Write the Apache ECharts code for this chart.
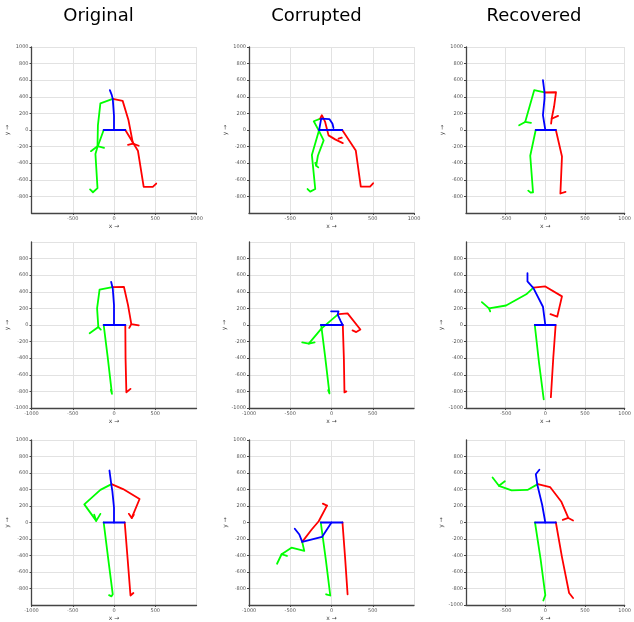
<!DOCTYPE html>
<html><head><meta charset="utf-8">
<script src="https://cdn.jsdelivr.net/npm/echarts@6/dist/echarts.min.js"></script>
<style>html,body{margin:0;padding:0;background:#fff}#c{width:634px;height:622px}</style>
</head><body><div id="c"></div>
<script>
// Column titles
const columnTitles = ['Original', 'Corrupted', 'Recovered'];
// Axis tick values
const xTickStep = 500, yTickStep = 200, axisMin = -1000, axisMax = 1000;

// Each skeleton: polylines per colour (blue = spine/hips, red = one side, green = other side)
// Row 1
const p1Blue = [[[-125,0],[137,0]], [[0,0],[0,170],[-15,375],[-30,430],[-50,480]]];
const p1Red = [[[-15,375],[105,351],[175,120],[230,-165]], [[170,-178],[230,-165],[300,-190]], [[137,0],[290,-250],[360,-685],[470,-685],[512,-645]]];
const p1Green = [[[-15,375],[-165,320],[-195,55],[-200,-195]], [[-280,-255],[-200,-195],[-120,-215]], [[-125,0],[-205,-220],[-225,-290],[-200,-700],[-255,-750],[-290,-715]]];

const p2Blue = [[[-150,0],[130,0]], [[24,24],[12,76],[-24,130],[-125,137],[-148,115],[-150,0]]];
const p2Red = [[[-137,137],[-117,178],[-77,97],[-36,-65],[44,-113],[137,-158]], [[85,-105],[125,-93]], [[130,0],[294,-246],[355,-683],[467,-683],[504,-642]]];
const p2Green = [[[-125,140],[-215,105],[-160,5],[-95,-125],[-165,-310],[-185,-430]], [[-197,-395],[-185,-430],[-160,-450]], [[-150,0],[-238,-300],[-197,-711],[-258,-743],[-290,-711]]];

const p3Blue = [[[-121,0],[133,0]], [[0,0],[-30,180],[-10,380],[-10,450],[-30,600]]];
const p3Red = [[[-10,452],[135,455],[110,280],[80,135]], [[73,77],[80,135],[161,170]], [[133,0],[210,-320],[190,-765],[215,-770],[255,-745]]];
const p3Green = [[[-10,452],[-140,480],[-254,97],[-330,57]], [[-254,97],[-181,85]], [[-121,0],[-190,-310],[-155,-750],[-185,-755],[-215,-730]]];

// Row 2
const p4Blue = [[[-125,0],[137,0]], [[0,0],[0,240],[-15,440],[-5,460],[-35,520]]];
const p4Red = [[[-20,457],[120,460],[170,240],[210,10],[300,-5]], [[210,10],[185,-35]], [[137,0],[140,-400],[150,-810],[165,-815],[200,-770]]];
const p4Green = [[[-20,457],[-175,425],[-205,200],[-190,-25]], [[-295,-100],[-190,-25],[-160,-55]], [[-125,0],[-75,-400],[-25,-830],[-38,-780]]];

const p5Blue = [[[-130,0],[135,0]], [[135,0],[110,50],[75,125],[85,165],[-5,165]]];
const p5Red = [[[90,130],[195,140],[350,-55],[300,-85],[255,-65]], [[137,0],[150,-400],[157,-812],[180,-800]]];
const p5Green = [[[75,125],[-120,-40],[-275,-225],[-355,-210]], [[-275,-225],[-205,-210]], [[-125,0],[-75,-400],[-25,-825],[-40,-785]]];

const p6Blue = [[[-133,0],[129,0]], [[0,0],[-30,220],[-150,445],[-225,525],[-225,625]]];
const p6Red = [[[-150,450],[0,465],[210,345],[150,100],[65,130]], [[130,0],[100,-400],[70,-870]]];
const p6Green = [[[-150,450],[-240,370],[-495,235],[-710,200],[-800,275]], [[-710,200],[-695,165]], [[-133,0],[-80,-450],[-20,-895]]];

// Row 3
const p7Blue = [[[-125,0],[129,0]], [[0,0],[0,180],[-20,380],[-32,455],[-55,630]]];
const p7Red = [[[-30,465],[110,405],[310,285],[215,55]], [[180,105],[215,55],[240,95]], [[130,0],[165,-440],[200,-885],[235,-855]]];
const p7Green = [[[-30,465],[-165,395],[-360,220],[-215,20]], [[-240,95],[-215,20],[-165,105]], [[-125,0],[-70,-440],[-15,-870],[-30,-895],[-60,-880]]];

const p8Blue = [[[-129,0],[133,0]], [[0,0],[-115,-175],[-355,-235],[-390,-145],[-445,-75]]];
const p8Red = [[[-355,-235],[-240,-85],[-155,15],[-55,205]], [[-55,205],[-70,228],[-105,228]], [[133,0],[165,-430],[195,-870]]];
const p8Green = [[[-355,-235],[-330,-345],[-485,-305],[-605,-385],[-660,-500]], [[-605,-385],[-540,-405]], [[-130,0],[-70,-440],[-15,-885],[-35,-900],[-65,-870]]];

const p9Blue = [[[-129,0],[133,0]], [[0,0],[-40,215],[-100,455],[-120,585],[-75,640]]];
const p9Red = [[[-95,465],[60,430],[200,255],[290,55]], [[220,32],[290,55],[350,25]], [[133,0],[210,-420],[300,-855],[350,-915]]];
const p9Green = [[[-95,465],[-225,395],[-425,390],[-585,445],[-665,545]], [[-585,445],[-510,500]], [[-130,0],[-60,-440],[0,-880],[-25,-945]]];

const panels = [
  {blue:p1Blue, red:p1Red, green:p1Green, xMin:false, xMax:true, yMin:false, yMax:true},
  {blue:p2Blue, red:p2Red, green:p2Green, xMin:false, xMax:true, yMin:false, yMax:true},
  {blue:p3Blue, red:p3Red, green:p3Green, xMin:false, xMax:true, yMin:false, yMax:true},
  {blue:p4Blue, red:p4Red, green:p4Green, xMin:true, xMax:false, yMin:true, yMax:false},
  {blue:p5Blue, red:p5Red, green:p5Green, xMin:true, xMax:false, yMin:true, yMax:false},
  {blue:p6Blue, red:p6Red, green:p6Green, xMin:false, xMax:true, yMin:true, yMax:false},
  {blue:p7Blue, red:p7Red, green:p7Green, xMin:true, xMax:false, yMin:false, yMax:true},
  {blue:p8Blue, red:p8Red, green:p8Green, xMin:true, xMax:false, yMin:false, yMax:true},
  {blue:p9Blue, red:p9Red, green:p9Green, xMin:false, xMax:true, yMin:true, yMax:false}
];

const colLeft = [31.5, 249, 466];
const rowTop = [47, 242, 440];
const plotW = 165, plotH = 166;
const FONT = 'DejaVu Sans';
const fmt = v => String(v);

const grids = [], xAxes = [], yAxes = [], series = [];
panels.forEach((p, i) => {
  const r = Math.floor(i / 3), c = i % 3;
  grids.push({left: colLeft[c], top: rowTop[r], width: plotW, height: plotH, containLabel: false});
  const axisCommon = {
    type: 'value', gridIndex: i, min: axisMin, max: axisMax,
    axisLine: {show: true, onZero: false, lineStyle: {color: '#444', width: 1.3}},
    axisTick: {show: true, length: 2, lineStyle: {color: '#444', width: 1}},
    splitLine: {show: true, lineStyle: {color: '#e2e2e2', width: 1}},
    nameLocation: 'middle',
    nameTextStyle: {fontSize: 6, color: '#444', fontFamily: FONT}
  };
  xAxes.push(Object.assign({}, axisCommon, {
    interval: xTickStep, name: 'x →', nameGap: 10,
    axisLabel: {fontSize: 5, color: '#555', margin: 3, fontFamily: FONT, formatter: fmt, showMinLabel: p.xMin, showMaxLabel: p.xMax}
  }));
  yAxes.push(Object.assign({}, axisCommon, {
    interval: yTickStep, name: 'y →', nameGap: 21, nameRotate: 90,
    axisLabel: {fontSize: 5, color: '#555', margin: 3, fontFamily: FONT, formatter: fmt, showMinLabel: p.yMin, showMaxLabel: p.yMax}
  }));
  const addLines = (lines, color) => lines.forEach(pts => series.push({
    type: 'line', xAxisIndex: i, yAxisIndex: i, data: pts, symbol: 'none',
    silent: true, animation: false, clip: false,
    lineStyle: {color: color, width: 1.8, cap: 'round', join: 'round'}
  }));
  addLines(p.green, '#00ff00');
  addLines(p.red, '#ff0000');
  addLines(p.blue, '#0000ff');
});

const titleX = [98.5, 316.5, 534];
const graphics = columnTitles.map((t, k) => ({
  type: 'text', x: titleX[k], y: 16,
  style: {text: t, fill: '#000', font: '18px "DejaVu Sans"', textAlign: 'center', textVerticalAlign: 'middle'}
}));

const chart = echarts.init(document.getElementById('c'), null, {renderer: 'canvas'});
chart.setOption({
  animation: false,
  backgroundColor: '#fff',
  grid: grids, xAxis: xAxes, yAxis: yAxes, series: series,
  graphic: graphics
});
</script></body></html>
